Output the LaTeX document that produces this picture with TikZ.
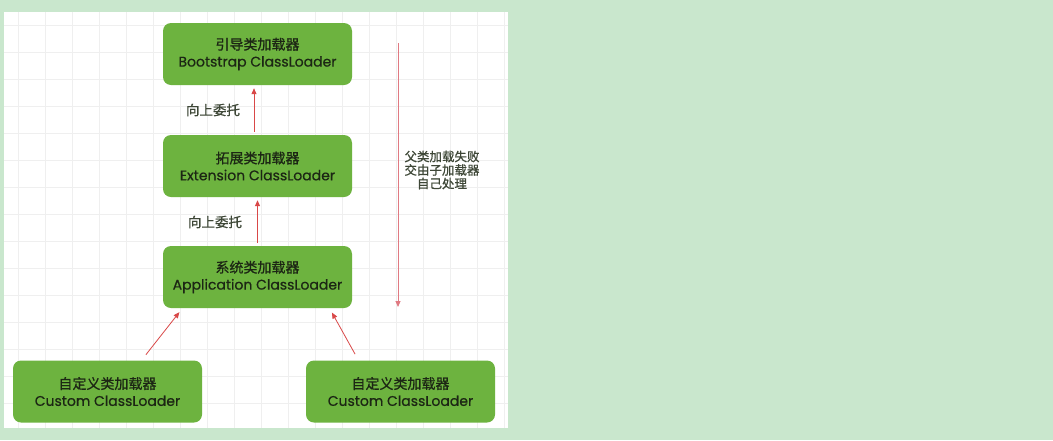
\documentclass[tikz,border=0pt]{standalone}
\usepackage{fontspec}
\setmainfont{Poppins}[FakeBold=0.6]
\newfontfamily\cjk{Noto Sans CJK SC}[FakeBold=0.8]
\usetikzlibrary{arrows.meta}
\definecolor{pagegreen}{HTML}{C9E7CD}
\definecolor{boxgreen}{HTML}{6DB33F}
\definecolor{arrowred}{HTML}{D94848}
\definecolor{failred}{HTML}{E07A82}
\definecolor{gridgray}{HTML}{EFEFEF}
\definecolor{inktext}{HTML}{1C2614}
\begin{document}
\begin{tikzpicture}[x=1pt, y=-1pt,
    loaderbox/.style={fill=boxgreen, rounded corners=8pt, minimum width=189pt, minimum height=62pt, inner sep=0pt, align=center, text=inktext, font=\fontsize{14}{17}\selectfont},
    upline/.style={draw=arrowred, line width=0.8pt, -{Triangle[width=5pt,length=6pt]}},
    downline/.style={draw=failred, line width=0.9pt, -{Triangle[width=5pt,length=6pt]}},
    note/.style={text=inktext!85, align=center, font=\fontsize{12.5}{13.5}\selectfont\cjk}]
            \useasboundingbox (0,0) rectangle (1053,440);
            \fill[pagegreen] (0,0) rectangle (1053,440);
            \fill[white] (4,12) rectangle (508,428);
            \foreach \gx in {18,45,...,504}
                \draw[gridgray, line width=0.6pt] (\gx,12) -- (\gx,428);
            \foreach \gy in {25,52,...,425}
                \draw[gridgray, line width=0.6pt] (4,\gy) -- (508,\gy);
            \node[loaderbox] (boot) at (257.5,54) {{\cjk 引导类加载器}\\Bootstrap ClassLoader};
            \node[loaderbox] (ext) at (257.5,166) {{\cjk 拓展类加载器}\\Extension ClassLoader};
            \node[loaderbox] (app) at (257.5,277) {{\cjk 系统类加载器}\\Application ClassLoader};
            \node[loaderbox] (custleft) at (107.5,391.5) {{\cjk 自定义类加载器}\\Custom ClassLoader};
            \node[loaderbox] (custright) at (400.5,391.5) {{\cjk 自定义类加载器}\\Custom ClassLoader};
            \draw[upline, shorten <=3pt, shorten >=3pt] ([xshift=-3.5pt]ext.north) -- ([xshift=-3.5pt]boot.south);
            \node[note, font=\fontsize{13.5}{15}\selectfont\cjk] (upboot) at (213,110) {向上委托};
            \draw[upline, shorten <=3pt, shorten >=3pt] (app.north) -- (ext.south);
            \node[note, font=\fontsize{13.5}{15}\selectfont\cjk] (upext) at (215,222) {向上委托};
            \draw[upline, shorten <=7pt, shorten >=5pt] ([xshift=34pt]custleft.north) -- ([xshift=-75pt]app.south);
            \draw[upline, shorten <=7pt, shorten >=5pt] ([xshift=-42pt]custright.north) -- ([xshift=72pt]app.south);
            \coordinate (failtop) at (398,43);
            \coordinate (failend) at (398,307);
            \draw[downline] (failtop) -- (failend);
            \node[note] (failnote) at (442,170) {父类加载失败\\交由子加载器\\自己处理};
        \end{tikzpicture}
\end{document}
